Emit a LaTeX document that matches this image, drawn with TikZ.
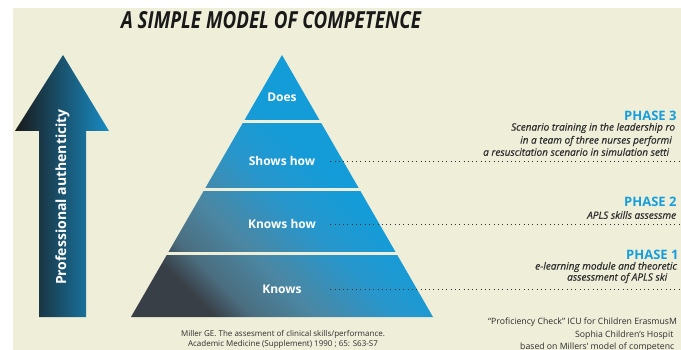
\documentclass[tikz,border=0pt]{standalone}
\usepackage{fontspec}
\setmainfont{Open Sans}
\newfontfamily\titlefont[FakeStretch=0.8]{Open Sans}
\newfontfamily\notefont[FakeBold=0.4]{Open Sans}
\usetikzlibrary{positioning}

\definecolor{bgcream}{RGB}{239,238,217}
\definecolor{pyrblue}{RGB}{20,156,216}
\definecolor{pyrsky}{RGB}{40,150,203}
\definecolor{pyrmid}{RGB}{75,135,163}
\definecolor{pyrgrey}{RGB}{75,110,128}
\definecolor{pyrdark}{RGB}{56,63,70}
\definecolor{arrowblue}{RGB}{24,140,196}
\definecolor{phaseblue}{RGB}{22,158,220}
\definecolor{txtgrey}{RGB}{45,45,45}

\pgfdeclareverticalshading{pyrshade}{100bp}{color(0bp)=(pyrdark); color(25bp)=(pyrdark);
  color(30bp)=(pyrgrey); color(38bp)=(pyrmid); color(48bp)=(pyrsky); color(57bp)=(pyrblue); color(100bp)=(pyrblue)}

\begin{document}
\begin{tikzpicture}
  [x=1pt,y=-1pt,
   every node/.style={inner sep=0pt},
   tierlabel/.style={text=white,font=\bfseries\fontsize{12}{14}\selectfont,minimum width=96pt},
   phasehead/.style={anchor=west,text=phaseblue,font=\bfseries\fontsize{13}{15}\selectfont},
   phasetext/.style={anchor=west,text=txtgrey,font=\notefont\itshape\fontsize{10}{12}\selectfont},
   credit/.style={anchor=west,text=txtgrey,font=\fontsize{8.7}{11}\selectfont},
   dotline/.style={txtgrey,line width=0.9pt,dash pattern=on 0.9pt off 3.4pt}]
  \useasboundingbox (0,0) rectangle (681,350);
  \fill[white] (0,0) rectangle (681,350);
  \fill[bgcream] (13,8) rectangle (681,350);
  \clip (0,0) rectangle (681,350);

  \node[text=black!90,font=\titlefont\bfseries\itshape\fontsize{23.5}{26}\selectfont] (title) at (271,20) {A SIMPLE MODEL OF COMPETENCE};

  % arrow on the left
  \shade[left color=black!90,right color=arrowblue]
    (39,317) -- (39,131) -- (15,131) -- (63,55) -- (109,131) -- (86,131) -- (86,317) -- cycle;
  \node[rotate=90,text=white,font=\bfseries\fontsize{14}{16}\selectfont] (auth) at (62.5,197) {Professional authenticity};

  % pyramid
  \shade[shading=pyrshade,shading angle=-45]
    (282,55) -- (433,317) -- (131,317) -- cycle;
  \foreach \y in {121.7,189.7,253.7}
    \draw[bgcream,line width=3pt] (120,\y) -- (445,\y);

  \node[tierlabel] (does) at (282,97) {Does};
  \node[tierlabel] (shows) at (282,161) {Shows how};
  \node[tierlabel] (knowshow) at (282,224) {Knows how};
  \node[tierlabel] (knows) at (282,289) {Knows};

  \coordinate (e3) at (681,161);
  \coordinate (e2) at (681,224);
  \coordinate (e1) at (681,289);
  \foreach \from/\to in {shows/e3,knowshow/e2,knows/e1}
    \draw[dotline] (\from) -- (\to);

  % phases
  \node[phasehead] (p3) at (624,116) {PHASE 3};
  \node[phasetext] (p3a) at (511,128) {Scenario training in the leadership ro};
  \node[phasetext] (p3b) at (520,141) {in a team of three nurses performi};
  \node[phasetext] (p3c) at (483,152) {a resuscitation scenario in simulation setti};

  \node[phasehead] (p2) at (624,202) {PHASE 2};
  \node[phasetext] (p2a) at (587,215) {APLS skills assessme};

  \node[phasehead] (p1) at (626,255) {PHASE 1};
  \node[phasetext] (p1a) at (535,267) {e-learning module and theoretic};
  \node[phasetext] (p1b) at (567,278) {assessment of APLS ski};

  % references
  \node[credit,anchor=center,align=center,font=\fontsize{8}{10}\selectfont] (miller) at (283,339) {Miller GE. The assesment of clinical skills/performance.\\Academic Medicine (Supplement) 1990 ; 65: S63-S7};
  \node[credit] (c1) at (488,322) {“Proficiency Check” ICU for Children ErasmusM};
  \node[credit] (c2) at (575,335) {Sophia Children’s Hospit};
  \node[credit] (c3) at (520,347) {based on Millers’ model of competenc};
\end{tikzpicture}
\end{document}
